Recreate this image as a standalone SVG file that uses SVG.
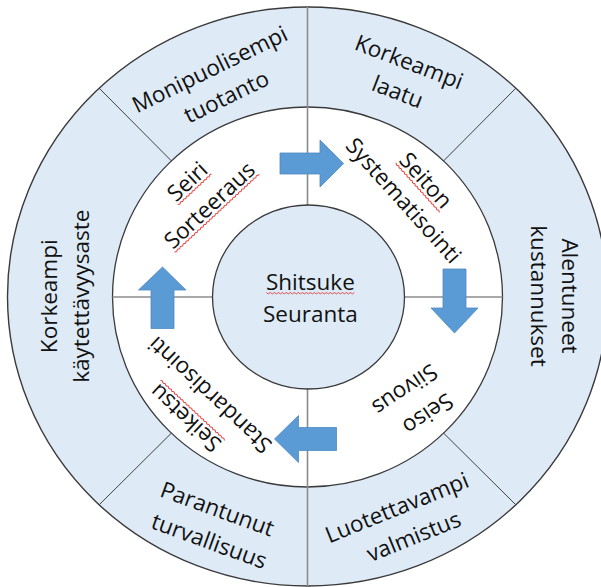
<svg xmlns="http://www.w3.org/2000/svg" xmlns:xlink="http://www.w3.org/1999/xlink" width="601" height="587" viewBox="0 0 601 587">
  <defs>
    <style>
      .outer{fill:#DEEBF7;stroke:#3a3a3a;stroke-width:1.4}
      .band{fill:#ffffff;stroke:#3a3a3a;stroke-width:1.3}
      .core{fill:#DEEBF7;stroke:#3a3a3a;stroke-width:1.3}
      .div{stroke:#404040;stroke-width:1;fill:none}
      .axis{stroke:#8c8c8c;stroke-width:1.6;fill:none}
      .arrow{fill:#5B9BD5;stroke:#4F89C2;stroke-width:0.8}
      .sq{fill:none;stroke:#e53935;stroke-width:0.9}
      text{font-family:"Open Sans","Noto Sans","DejaVu Sans",sans-serif;font-size:22.5px;fill:#111;text-anchor:middle}
    </style>
    <!-- wavy spell-check underline, trimmed to length with a dash -->
    <path id="sq" d="M0,0 l2,1.4 2,-1.4 2,1.4 2,-1.4 2,1.4 2,-1.4 2,1.4 2,-1.4 2,1.4 2,-1.4 2,1.4 2,-1.4 2,1.4 2,-1.4 2,1.4 2,-1.4 2,1.4 2,-1.4 2,1.4 2,-1.4 2,1.4 2,-1.4 2,1.4 2,-1.4 2,1.4 2,-1.4 2,1.4 2,-1.4 2,1.4 2,-1.4 2,1.4 2,-1.4 2,1.4 2,-1.4 2,1.4 2,-1.4 2,1.4 2,-1.4 2,1.4 2,-1.4 2,1.4 2,-1.4 2,1.4 2,-1.4 2,1.4 2,-1.4 2,1.4 2,-1.4 2,1.4 2,-1.4 2,1.4 2,-1.4 2,1.4 2,-1.4 2,1.4 2,-1.4 2,1.4 2,-1.4 2,1.4 2,-1.4 2,1.4 2,-1.4 2,1.4 2,-1.4 2,1.4 2,-1.4 2,1.4 2,-1.4 2,1.4 2,-1.4"/>
  </defs>

  <rect width="601" height="587" fill="#ffffff"/>

  <!-- rings -->
  <g id="rings">
    <ellipse class="outer" cx="307.5" cy="296.5" rx="300" ry="289.5"/>
    <ellipse class="band" cx="307.5" cy="297" rx="195" ry="190"/>
  </g>

  <!-- dividers between the benefit segments and the 5S quadrants -->
  <g id="dividers">
    <line class="div" x1="171.4" y1="160.9" x2="99.2" y2="88.2"/>
    <line class="div" x1="443.6" y1="160.9" x2="515.8" y2="88.2"/>
    <line class="div" x1="171.4" y1="433.1" x2="99.2" y2="504.8"/>
    <line class="div" x1="443.6" y1="433.1" x2="515.8" y2="504.8"/>
    <line class="axis" x1="307.5" y1="7" x2="307.5" y2="586"/>
    <line class="axis" x1="112.5" y1="297" x2="502.5" y2="297"/>
  </g>

  <g id="node-center">
    <ellipse class="core" cx="308.5" cy="297" rx="96" ry="92"/>
    <text x="310.4" y="290">Shitsuke</text>
    <use xlink:href="#sq" class="sq" x="266.4" y="292.5" style="stroke-dasharray:107.4 2000"/>
    <text x="310.4" y="321.7">Seuranta</text>
  </g>

  <!-- cycle arrows -->
  <g id="connectors">
    <path class="arrow" d="M280,153 H320 V140 L343.5,163.5 L320,187 V174 H280 Z"/>
    <path class="arrow" d="M443,269 H466 V308 H478 L454.5,333 L431,308 H443 Z"/>
    <path class="arrow" d="M336.5,427.5 H298.5 V415.5 L274.5,439 L298.5,462.5 V450.5 H336.5 Z"/>
    <path class="arrow" d="M151,328.5 V290 H138.5 L162.5,267 L186,290 H174 V328.5 Z"/>
  </g>

  <!-- 5S quadrants -->
  <g id="node-seiri" transform="translate(203.7,199) rotate(-43)">
    <text x="0" y="-16.25">Seiri</text>
    <use xlink:href="#sq" class="sq" x="-22.75" y="-13.75" style="stroke-dasharray:55.5 2000"/>
    <text x="0" y="16.25">Sorteeraus</text>
    <use xlink:href="#sq" class="sq" x="-57.5" y="18.75" style="stroke-dasharray:140.4 2000"/>
  </g>
  <g id="node-seiton" transform="translate(408.9,195.6) rotate(48)">
    <text x="0" y="-15">Seiton</text>
    <use xlink:href="#sq" class="sq" x="-32.9" y="-12.5" style="stroke-dasharray:80.3 2000"/>
    <text x="0" y="15">Systematisointi</text>
  </g>
  <g id="node-seiso" transform="translate(412.1,395.5) rotate(146)">
    <text x="-2.8" y="-16.5">Seiso</text>
    <text x="2.8" y="16.5">Siivous</text>
  </g>
  <g id="node-seiketsu" transform="translate(202.9,400.9) rotate(-137)">
    <text x="1.1" y="-16.8">Seiketsu</text>
    <use xlink:href="#sq" class="sq" x="-42.75" y="-14.3" style="stroke-dasharray:107 2000"/>
    <text x="-1.1" y="16.8">Standardisointi</text>
  </g>

  <!-- benefits -->
  <g id="node-monipuolisempi" transform="translate(221.5,90) rotate(-26)">
    <text x="-1.5" y="-16">Monipuolisempi</text>
    <text x="1.5" y="16">tuotanto</text>
  </g>
  <g id="node-laatu" transform="translate(400.5,84.3) rotate(21)">
    <text x="0" y="-16">Korkeampi</text>
    <text x="0" y="16">laatu</text>
  </g>
  <g id="node-kustannukset" transform="translate(546.3,296) rotate(90)">
    <text x="0" y="-15.4">Alentuneet</text>
    <text x="0" y="15.4">kustannukset</text>
  </g>
  <g id="node-valmistus" transform="translate(408.2,529.3) rotate(-22)">
    <text x="-2.4" y="-16.5">Luotettavampi</text>
    <text x="2.4" y="16.5">valmistus</text>
  </g>
  <g id="node-turvallisuus" transform="translate(210.5,532.4) rotate(20)">
    <text x="-1.7" y="-16.5">Parantunut</text>
    <text x="1.7" y="16.5">turvallisuus</text>
  </g>
  <g id="node-kaytettavyysaste" transform="translate(72.75,296.25) rotate(-90)">
    <text x="0" y="-16.25">Korkeampi</text>
    <text x="0" y="16.25">käytettävyysaste</text>
  </g>
</svg>
